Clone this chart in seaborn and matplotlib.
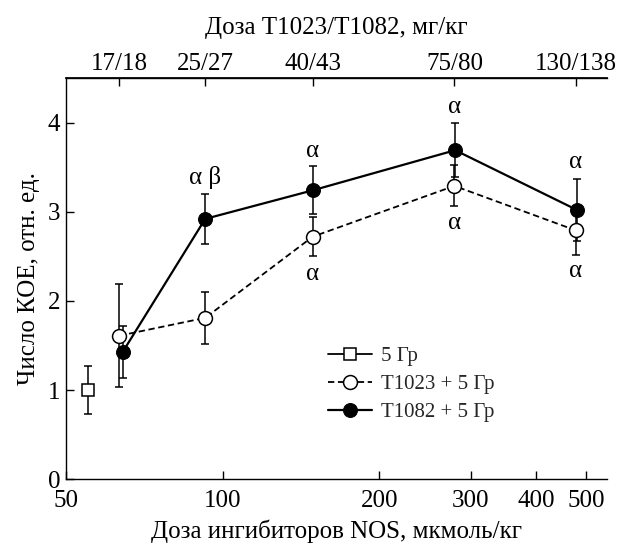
import matplotlib
matplotlib.use("Agg")
import matplotlib.pyplot as plt
import seaborn as sns
import pandas as pd
import numpy as np

# ---- data ----
ctrl_x = [55]
ctrl_y = [1.0]
ctrl_err = [0.27]

t1023_x = [63.3, 92.6, 149, 279, 478]
t1023_y = [1.61, 1.81, 2.72, 3.29, 2.79]
t1023_err = [0.58, 0.29, 0.22, 0.23, 0.27]

t1082_x = [64.3, 92.6, 149, 280, 480]
t1082_y = [1.43, 2.92, 3.24, 3.69, 3.02]
t1082_err = [0.29, 0.28, 0.27, 0.30, 0.35]

top_ticks = [63.3, 92.6, 149, 279, 478]
top_labels = ["17/18", "25/27", "40/43", "75/80", "130/138"]
bottom_ticks = [50, 100, 200, 300, 400, 500]

# significance marks: (x, y, text)
marks_x = [92.6, 149, 149, 279, 279, 478, 478]
marks_y = [3.38, 3.68, 2.30, 4.17, 2.87, 3.56, 2.33]
marks_t = ["α β", "α", "α", "α", "α", "α", "α"]

sns.set_theme(style="ticks")
plt.rcParams['font.family'] = ['Liberation Serif', 'DejaVu Serif']

fs = 18
fig = plt.figure(figsize=(6.18, 5.48), dpi=100)
ax = fig.add_axes([0.1068, 0.1254, 0.982 - 0.1068, 0.8577 - 0.1254])

df_c = pd.DataFrame({"x": ctrl_x, "y": ctrl_y})
df_a = pd.DataFrame({"x": t1023_x, "y": t1023_y})
df_b = pd.DataFrame({"x": t1082_x, "y": t1082_y})

lw = 1.3
ebkw = dict(fmt='none', ecolor='black', elinewidth=1.1, capsize=3.2, capthick=1.1)
ax.errorbar(ctrl_x, ctrl_y, yerr=ctrl_err, zorder=2, **ebkw)
ax.errorbar(t1023_x, t1023_y, yerr=t1023_err, zorder=2, **ebkw)
ax.errorbar(t1082_x, t1082_y, yerr=t1082_err, zorder=2, **ebkw)

sns.lineplot(data=df_c, x="x", y="y", ax=ax, color="black", lw=lw, marker="s",
             markersize=8, markerfacecolor="white", markeredgecolor="black",
             markeredgewidth=1.1, label="5 Гр", zorder=3)
sns.lineplot(data=df_a, x="x", y="y", ax=ax, color="black", lw=lw, linestyle=(0, (3.5, 2)),
             marker="o", markersize=10, markerfacecolor="white", markeredgecolor="black",
             markeredgewidth=1.1, label="Т1023 + 5 Гр", zorder=3)
sns.lineplot(data=df_b, x="x", y="y", ax=ax, color="black", lw=lw + 0.3, marker="o",
             markersize=10, markerfacecolor="black", markeredgecolor="black",
             label="Т1082 + 5 Гр", zorder=4)

ax.set_xscale("log")
ax.set_xlim(50, 548)
ax.set_ylim(0, 4.5)
ax.set_xticks(bottom_ticks)
ax.set_xticklabels([str(t) for t in bottom_ticks])
ax.xaxis.set_minor_locator(matplotlib.ticker.NullLocator())
ax.set_yticks([0, 1, 2, 3, 4])
ax.tick_params(axis='both', direction='in', length=6, width=1.0, labelsize=fs,
               colors='black', pad=4)
ax.tick_params(axis='x', pad=8)
for s in ['left', 'bottom', 'top']:
    ax.spines[s].set_color('black')
    ax.spines[s].set_linewidth(1.0)
ax.spines['right'].set_visible(False)

ax.set_xlabel("Доза ингибиторов NOS, мкмоль/кг", fontsize=fs, color='black', labelpad=5)
ax.set_ylabel("Число КОЕ, отн. ед.", fontsize=fs, color='black', labelpad=6)

sec = ax.secondary_xaxis('top')
sec.set_xticks(top_ticks)
sec.set_xticklabels(top_labels)
sec.xaxis.set_minor_locator(matplotlib.ticker.NullLocator())
sec.tick_params(direction='in', length=6, width=1.0, labelsize=fs, colors='black', pad=2)
sec.spines['top'].set_color('black')
sec.set_xlabel("Доза Т1023/Т1082, мг/кг", fontsize=fs, color='black', labelpad=14)

for x, y, t in zip(marks_x, marks_y, marks_t):
    ax.text(x, y, t, ha='center', va='center', fontsize=fs, color='black')

leg = ax.legend(loc='center left', bbox_to_anchor=(0.484, 0.237), frameon=False,
                fontsize=15, handlelength=2.1, handletextpad=0.45, labelspacing=0.4,
                borderaxespad=0, borderpad=0)

fig.savefig("out.png", dpi=100)
